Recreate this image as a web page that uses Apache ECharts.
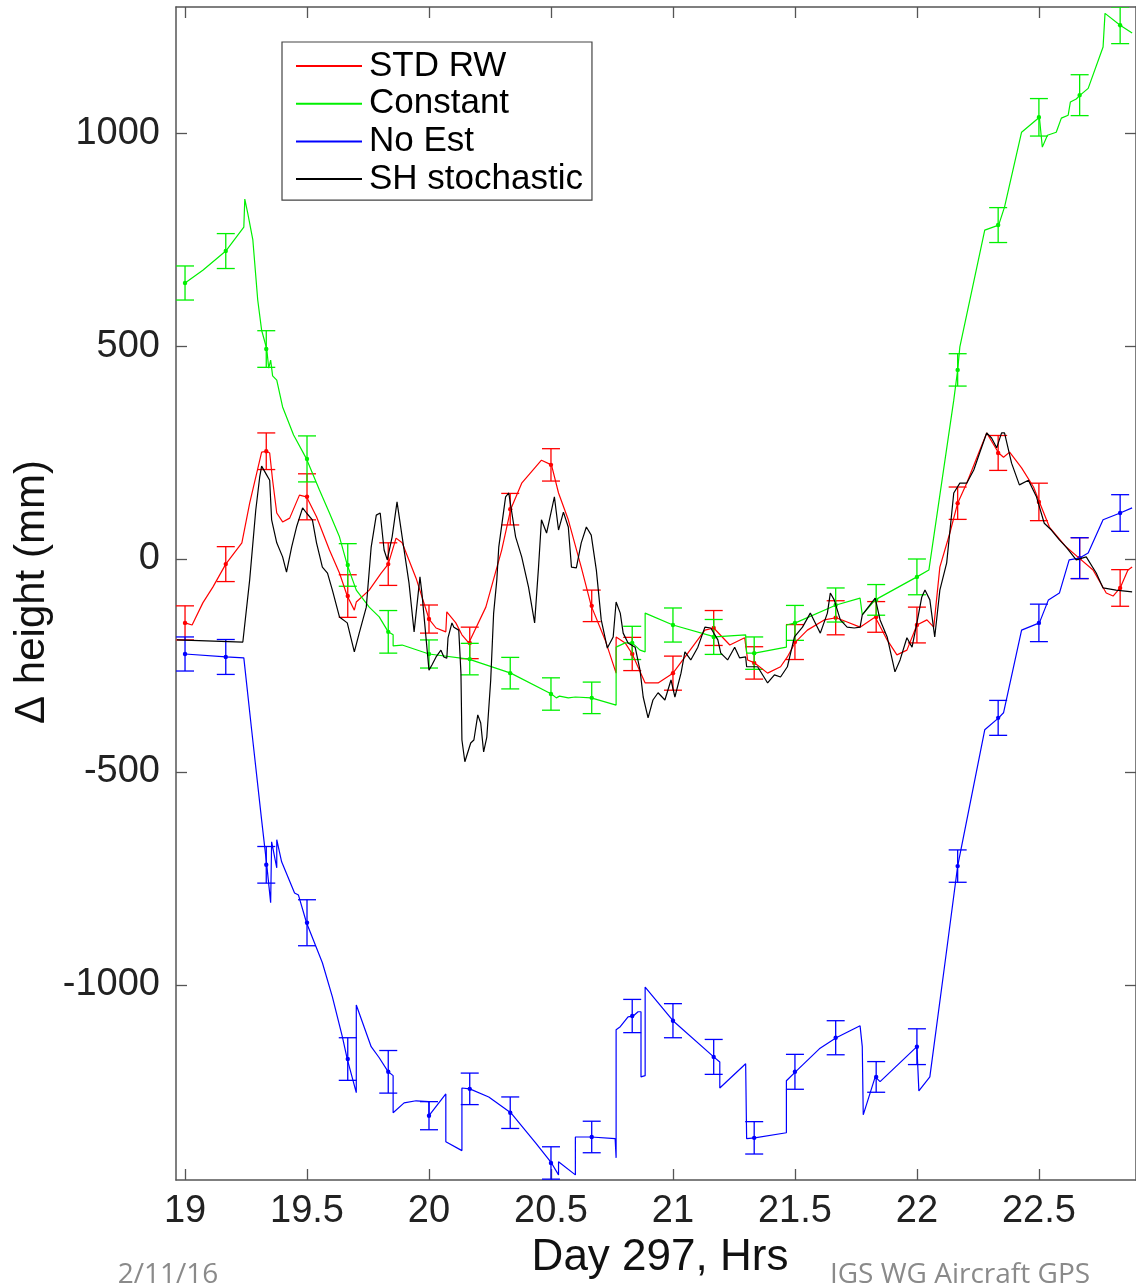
<!DOCTYPE html>
<html><head><meta charset="utf-8">
<script src="https://cdn.jsdelivr.net/npm/echarts@6/dist/echarts.min.js"></script>
<style>html,body{margin:0;padding:0;background:#fff}#c{width:1136px;height:1286px}</style>
</head><body><div id="c"></div>
<script>
const xTicks = [19, 19.5, 20, 20.5, 21, 21.5, 22, 22.5];
const yTicks = [-1000, -500, 0, 500, 1000];
const seriesNames = ['STD RW', 'Constant', 'No Est', 'SH stochastic'];

// traced curves: [hour, delta height mm]
const stdRW = [[19.000,-150],[19.029,-155],[19.073,-103],[19.114,-66],[19.167,-12],[19.233,38],[19.265,131],[19.314,251],[19.335,253],[19.347,249],[19.359,185],[19.376,108],[19.400,87],[19.429,96],[19.469,150],[19.498,146],[19.539,99],[19.592,21],[19.633,-33],[19.665,-87],[19.694,-120],[19.702,-101],[19.755,-73],[19.804,-33],[19.833,-12],[19.865,49],[19.890,38],[19.947,-45],[20.000,-141],[20.029,-162],[20.069,-171],[20.073,-124],[20.110,-150],[20.135,-178],[20.163,-197],[20.233,-113],[20.298,21],[20.335,117],[20.380,178],[20.461,232],[20.502,221],[20.531,155],[20.571,92],[20.624,-19],[20.665,-110],[20.722,-190],[20.767,-268],[20.767,-183],[20.804,-197],[20.833,-223],[20.886,-291],[20.939,-291],[21.000,-268],[21.061,-221],[21.131,-167],[21.167,-162],[21.233,-202],[21.294,-185],[21.306,-237],[21.335,-244],[21.388,-268],[21.441,-253],[21.469,-230],[21.502,-195],[21.551,-167],[21.620,-143],[21.669,-138],[21.714,-148],[21.767,-160],[21.829,-136],[21.878,-190],[21.918,-225],[21.959,-214],[22.000,-155],[22.041,-143],[22.069,-160],[22.094,-19],[22.135,61],[22.167,131],[22.204,178],[22.245,237],[22.286,296],[22.335,249],[22.355,239],[22.380,251],[22.429,214],[22.478,169],[22.502,134],[22.543,75],[22.612,28],[22.665,2],[22.722,-26],[22.776,-80],[22.804,-87],[22.833,-68],[22.865,-26],[22.882,-19]];

const constant = [[19.000,648],[19.073,678],[19.167,723],[19.241,779],[19.245,845],[19.257,812],[19.278,749],[19.298,608],[19.314,537],[19.335,493],[19.343,448],[19.351,467],[19.359,430],[19.376,420],[19.400,357],[19.445,291],[19.498,235],[19.551,162],[19.592,108],[19.633,52],[19.665,-14],[19.702,-73],[19.755,-113],[19.796,-136],[19.833,-171],[19.853,-178],[19.853,-204],[19.890,-202],[20.000,-223],[20.163,-235],[20.335,-268],[20.502,-317],[20.522,-326],[20.535,-322],[20.571,-326],[20.600,-324],[20.665,-326],[20.767,-343],[20.767,-207],[20.804,-197],[20.833,-197],[20.865,-214],[20.886,-218],[20.886,-127],[21.000,-155],[21.171,-183],[21.298,-178],[21.302,-221],[21.335,-221],[21.465,-207],[21.465,-155],[21.502,-150],[21.669,-108],[21.767,-92],[21.776,-131],[21.829,-96],[22.000,-42],[22.049,-26],[22.151,373],[22.167,444],[22.176,498],[22.278,772],[22.335,784],[22.359,826],[22.429,1002],[22.502,1037],[22.514,967],[22.535,995],[22.571,1002],[22.592,1035],[22.620,1042],[22.629,1073],[22.653,1080],[22.669,1089],[22.702,1105],[22.763,1202],[22.771,1281],[22.833,1253],[22.882,1235]];

const noEst = [[19.000,-223],[19.167,-230],[19.241,-232],[19.273,-401],[19.314,-613],[19.335,-718],[19.351,-807],[19.355,-664],[19.376,-725],[19.376,-659],[19.396,-711],[19.449,-784],[19.465,-789],[19.498,-854],[19.563,-948],[19.604,-1028],[19.645,-1122],[19.665,-1174],[19.702,-1253],[19.702,-1047],[19.763,-1145],[19.796,-1171],[19.833,-1204],[19.853,-1213],[19.853,-1300],[19.898,-1277],[19.947,-1272],[20.000,-1274],[20.000,-1307],[20.069,-1256],[20.069,-1368],[20.135,-1389],[20.135,-1242],[20.167,-1244],[20.245,-1263],[20.335,-1300],[20.437,-1371],[20.502,-1418],[20.531,-1446],[20.531,-1415],[20.600,-1446],[20.600,-1357],[20.665,-1357],[20.763,-1361],[20.767,-1406],[20.767,-1105],[20.784,-1098],[20.816,-1075],[20.837,-1073],[20.857,-1063],[20.869,-1063],[20.869,-1216],[20.886,-1213],[20.886,-1005],[21.000,-1084],[21.167,-1169],[21.192,-1181],[21.192,-1242],[21.298,-1185],[21.302,-1361],[21.335,-1359],[21.465,-1347],[21.465,-1225],[21.502,-1204],[21.600,-1150],[21.669,-1124],[21.767,-1096],[21.776,-1145],[21.780,-1305],[21.829,-1216],[21.849,-1227],[22.000,-1145],[22.008,-1249],[22.053,-1216],[22.122,-918],[22.167,-721],[22.278,-401],[22.335,-373],[22.355,-361],[22.429,-167],[22.502,-150],[22.539,-96],[22.584,-80],[22.624,-2],[22.665,2],[22.702,14],[22.763,92],[22.833,108],[22.882,120]];

const shStochastic = [[18.967,-190],[19.237,-195],[19.265,-49],[19.290,115],[19.306,192],[19.314,218],[19.335,197],[19.347,185],[19.355,92],[19.376,38],[19.400,5],[19.416,-31],[19.437,28],[19.457,75],[19.482,120],[19.498,108],[19.522,92],[19.539,38],[19.563,-19],[19.584,-33],[19.604,-73],[19.633,-136],[19.665,-150],[19.694,-218],[19.714,-174],[19.743,-113],[19.763,28],[19.784,103],[19.800,108],[19.816,21],[19.829,-2],[19.849,52],[19.869,134],[19.890,52],[19.918,-56],[19.939,-171],[19.963,-42],[19.971,-80],[20.000,-261],[20.012,-249],[20.029,-230],[20.049,-214],[20.061,-230],[20.073,-233],[20.078,-185],[20.094,-150],[20.102,-160],[20.122,-167],[20.131,-268],[20.135,-425],[20.147,-476],[20.155,-476],[20.171,-432],[20.184,-425],[20.200,-366],[20.212,-385],[20.224,-453],[20.237,-418],[20.253,-284],[20.265,-127],[20.278,-49],[20.286,28],[20.314,146],[20.327,155],[20.355,52],[20.380,5],[20.408,-66],[20.433,-150],[20.449,-19],[20.461,92],[20.482,61],[20.514,146],[20.531,68],[20.551,110],[20.571,75],[20.584,-19],[20.604,-21],[20.624,38],[20.645,75],[20.665,56],[20.686,-26],[20.706,-143],[20.731,-209],[20.755,-183],[20.767,-101],[20.784,-127],[20.796,-174],[20.816,-197],[20.845,-207],[20.865,-261],[20.878,-324],[20.898,-373],[20.918,-331],[20.939,-314],[20.967,-331],[20.992,-284],[21.008,-324],[21.033,-268],[21.049,-218],[21.073,-237],[21.102,-207],[21.131,-160],[21.155,-162],[21.184,-190],[21.196,-221],[21.224,-237],[21.253,-207],[21.273,-232],[21.298,-230],[21.302,-253],[21.347,-253],[21.388,-291],[21.416,-272],[21.441,-277],[21.469,-253],[21.498,-183],[21.531,-160],[21.563,-127],[21.592,-160],[21.604,-174],[21.633,-127],[21.645,-80],[21.661,-96],[21.686,-143],[21.714,-160],[21.743,-162],[21.767,-160],[21.776,-131],[21.829,-92],[21.849,-143],[21.878,-183],[21.910,-265],[21.931,-237],[21.959,-185],[21.980,-207],[22.000,-150],[22.020,-89],[22.033,-73],[22.053,-96],[22.073,-183],[22.094,-73],[22.122,-9],[22.151,155],[22.176,178],[22.204,178],[22.233,209],[22.257,249],[22.286,296],[22.306,284],[22.327,261],[22.347,296],[22.359,296],[22.388,225],[22.420,174],[22.457,185],[22.490,146],[22.522,84],[22.551,68],[22.584,45],[22.612,28],[22.653,-2],[22.694,5],[22.735,-33],[22.763,-68],[22.816,-73],[22.882,-77]];

// error-bar epochs (every 10 min), half-widths (mm) and centre values
const ebTimes = [19.000,19.167,19.333,19.500,19.667,19.833,20.000,20.167,20.333,20.500,20.667,20.833,21.000,21.167,21.333,21.500,21.667,21.833,22.000,22.167,22.333,22.500,22.667,22.833];
const ebHalf = [40,41,43,54,50,50,33,37,37,38,37,39,40,41,38,41,40,36,42,38,41,44,48,43];
const ebStdRW = [-150,-12,253,146,-87,-12,-141,-197,117,221,-110,-223,-268,-162,-244,-195,-138,-136,-155,131,249,134,2,-68];
const ebConstant = [648,723,493,235,-14,-171,-223,-235,-268,-317,-326,-197,-155,-183,-221,-150,-108,-96,-42,444,784,1037,1089,1253];
const ebNoEst = [-223,-230,-718,-854,-1174,-1204,-1307,-1244,-1300,-1418,-1357,-1073,-1084,-1169,-1359,-1204,-1124,-1216,-1145,-721,-373,-150,2,108];

const RED = '#ff0000', GREEN = '#00f000', BLUE = '#0000ff', BLACK = '#000000';
const AX = '#555555';
const FONT = 'Liberation Sans, Arial, Helvetica, sans-serif';

function lineSeries(name, color, data, z) {
  return { type: 'line', name, data, color, showSymbol: false, symbol: 'none',
    lineStyle: { color, width: 1.2 }, itemStyle: { color }, clip: true, z, animation: false };
}
function errSeries(name, color, vals, z) {
  return {
    type: 'custom', name, clip: true, z, animation: false,
    encode: { x: 0, y: 1 },
    data: ebTimes.map((t, i) => [t, vals[i], ebHalf[i]]),
    renderItem(params, api) {
      const x = api.value(0), y = api.value(1), e = api.value(2);
      const c = api.coord([x, y]);
      const top = api.coord([x, y + e])[1];
      const bot = api.coord([x, y - e])[1];
      const w = 9;
      const st = { stroke: color, lineWidth: 1.3, fill: null };
      return { type: 'group', children: [
        { type: 'line', shape: { x1: c[0], y1: top, x2: c[0], y2: bot }, style: st },
        { type: 'line', shape: { x1: c[0] - w, y1: top, x2: c[0] + w, y2: top }, style: st },
        { type: 'line', shape: { x1: c[0] - w, y1: bot, x2: c[0] + w, y2: bot }, style: st },
        { type: 'circle', shape: { cx: c[0], cy: c[1], r: 2.2 }, style: { fill: color } }
      ]};
    }
  };
}

const xMin = 18.963, xMax = 22.898, yMin = -1458, yMax = 1296;
const tickCommon = { show: true, inside: true, length: 11, lineStyle: { color: AX, width: 1.3 } };
const lineCommon = { show: true, onZero: false, lineStyle: { color: AX, width: 1.5 } };

const chart = echarts.init(document.getElementById('c'), null, { renderer: 'canvas' });
chart.setOption({
  animation: false,
  backgroundColor: '#ffffff',
  grid: { left: 176, top: 7, width: 964, height: 1173, containLabel: false },
  xAxis: [
    { type: 'value', min: xMin, max: xMax, position: 'bottom',
      axisLine: lineCommon,
      axisTick: Object.assign({ customValues: xTicks }, tickCommon),
      axisLabel: { customValues: xTicks, fontSize: 38, fontFamily: FONT, color: '#222', margin: 13,
        formatter: v => String(v) },
      splitLine: { show: false } },
    { type: 'value', min: xMin, max: xMax, position: 'top',
      axisLine: lineCommon,
      axisTick: Object.assign({ customValues: xTicks }, tickCommon),
      axisLabel: { show: false }, splitLine: { show: false } }
  ],
  yAxis: [
    { type: 'value', min: yMin, max: yMax, position: 'left',
      axisLine: lineCommon,
      axisTick: Object.assign({ customValues: yTicks }, tickCommon),
      axisLabel: { customValues: yTicks, fontSize: 38, fontFamily: FONT, color: '#222', margin: 16,
        formatter: v => String(v) },
      splitLine: { show: false } },
    { type: 'value', min: yMin, max: yMax, position: 'right',
      axisLine: lineCommon,
      axisTick: Object.assign({ customValues: yTicks }, tickCommon),
      axisLabel: { show: false }, splitLine: { show: false } }
  ],
  legend: {
    data: seriesNames, orient: 'vertical', left: 282, top: 42,
    padding: [6, 9, 3, 14], itemWidth: 66, itemHeight: 2, itemGap: 1.7, icon: 'rect',
    backgroundColor: '#ffffff', borderColor: '#444', borderWidth: 1.2, borderRadius: 0,
    selectedMode: false, z: 20,
    textStyle: { fontSize: 35, fontFamily: FONT, color: '#000', lineHeight: 36, padding: [0, 0, 0, 2] }
  },
  graphic: [
    { type: 'text', x: 660, y: 1258, z: 10, style: { text: 'Day 297, Hrs', fontSize: 44, fontFamily: FONT, fill: '#111', align: 'center', verticalAlign: 'middle' } },
    { type: 'text', x: 32, y: 592, rotation: Math.PI / 2, z: 10, style: { text: 'Δ height (mm)', fontSize: 42, fontFamily: FONT, fill: '#111', align: 'center', verticalAlign: 'middle' } },
    { type: 'text', x: 168, y: 1275, z: 10, style: { text: '2/11/16', fontSize: 28, fontFamily: 'Open Sans, sans-serif', fill: '#8a8a8a', align: 'center', verticalAlign: 'middle' } },
    { type: 'text', x: 960, y: 1275, z: 10, style: { text: 'IGS WG Aircraft GPS', fontSize: 28, fontFamily: 'Open Sans, sans-serif', fill: '#8a8a8a', align: 'center', verticalAlign: 'middle' } }
  ],
  series: [
    lineSeries('STD RW', RED, stdRW, 2),
    errSeries('STD RW err', RED, ebStdRW, 2),
    lineSeries('Constant', GREEN, constant, 2),
    errSeries('Constant err', GREEN, ebConstant, 2),
    lineSeries('No Est', BLUE, noEst, 2),
    errSeries('No Est err', BLUE, ebNoEst, 2),
    lineSeries('SH stochastic', BLACK, shStochastic, 3)
  ]
});
</script>
</body></html>
